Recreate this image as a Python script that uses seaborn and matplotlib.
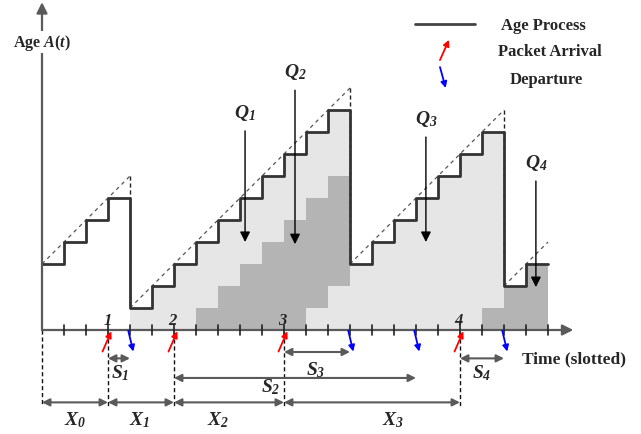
import numpy as np
import matplotlib
matplotlib.use('Agg')
import matplotlib.pyplot as plt
import seaborn as sns

# %%
# age value in every slot, t = 0..22
slots = np.arange(0, 23)
age = [3, 4, 5, 6, 1, 2, 3, 4, 5, 6, 7, 8, 9, 10, 3, 4, 5, 6, 7, 8, 9, 2, 3]
t_end = 23

arrivals = [3, 6, 11, 19]
arrival_labels = ['1', '2', '3', '4']
departures = [4, 14, 17, 21]
resets = [0, 4, 14, 21]

# shaded areas
light_start = 4
dark_slots = [7, 8, 9, 10, 11, 12, 13, 20, 21, 22]
dark_low = [0, 0, 0, 0, 0, 1, 2, 0, 0, 0]
dark_high = [1, 2, 3, 4, 5, 6, 7, 1, 2, 3]

# interval annotations
x_names = ['$X_0$', '$X_1$', '$X_2$', '$X_3$']
x_start = [0, 3, 6, 11]
x_stop = [3, 6, 11, 19]
s_names = ['$S_1$', '$S_2$', '$S_3$', '$S_4$']
s_start = [3, 6, 11, 19]
s_stop = [4, 17, 14, 21]

q_names = ['$Q_1$', '$Q_2$', '$Q_3$', '$Q_4$']
q_x = [9.23, 11.5, 17.45, 22.45]

# %%
sns.set_style('white')
plt.rcParams['font.family'] = ['Liberation Serif', 'DejaVu Serif']
plt.rcParams['mathtext.fontset'] = 'custom'
plt.rcParams['mathtext.it'] = 'Liberation Serif:italic:bold'
plt.rcParams['mathtext.rm'] = 'Liberation Serif:italic:bold'
plt.rcParams['mathtext.bf'] = 'Liberation Serif:italic:bold'

fig = plt.figure(figsize=(6.41, 4.35), dpi=100)
ax = fig.add_axes([0, 0, 1, 1])
ax.set_xlim(-42 / 22, 599 / 22)
ax.set_ylim(-104 / 22, 331 / 22)
ax.axis('off')

LIGHT = '#e6e6e6'
DARK = '#b4b4b4'
AXC = '#5a5a5a'

t_full = np.append(slots, t_end)
age_full = np.append(age, age[-1])

# light area under the age curve
mask = t_full >= light_start
ax.fill_between(t_full[mask], 0, age_full[mask], step='post', color=LIGHT, lw=0, zorder=1)
# dark areas
ax.bar(dark_slots, np.array(dark_high) - np.array(dark_low), bottom=dark_low,
       width=1, align='edge', color=DARK, lw=0, zorder=2)

# age process
sns.lineplot(x=t_full, y=age_full, drawstyle='steps-post', color='#333333',
             lw=2, ax=ax, legend=False, zorder=5)

# dashed envelopes
ends = resets[1:] + [t_end]
for s, e in zip(resets, ends):
    a0 = age[s]
    top = a0 + (e - s)
    ax.plot([s, e], [a0, top], ls=(0, (3, 3)), color='#555555', lw=0.9, zorder=4)
    if e < t_end:
        ax.plot([e, e], [top, age[e]], ls=(0, (3, 2)), color='#222222', lw=1, zorder=4)

# axes
ax.annotate('', xy=(24.15, 0), xytext=(0, 0),
            arrowprops=dict(arrowstyle='-|>', color=AXC, lw=1.6, mutation_scale=16,
                            shrinkA=0, shrinkB=0), zorder=6)
ax.annotate('', xy=(0, 14.9), xytext=(0, 0),
            arrowprops=dict(arrowstyle='-|>', color=AXC, lw=1.6, mutation_scale=16,
                            shrinkA=0, shrinkB=0), zorder=6)
for t in range(1, t_end + 1):
    ax.plot([t, t], [-0.23, 0.23], color='#222222', lw=1.2, zorder=6)

ax.text(0, 13.09, 'Age $A$($t$)', ha='center', va='center', fontsize=11.5,
        fontweight='bold', zorder=7,
        bbox=dict(facecolor='white', edgecolor='none', pad=1))
ax.text(24.2, -1.3, 'Time (slotted)', ha='center', va='center', fontsize=12.5,
        fontweight='bold')

# arrivals / departures
for t, lab in zip(arrivals, arrival_labels):
    ax.annotate('', xy=(t + 0.15, -0.06), xytext=(t - 0.25, -0.98),
                arrowprops=dict(arrowstyle='-|>', color='red', lw=1.3, mutation_scale=9,
                                shrinkA=0, shrinkB=0), zorder=7)
    ax.text(t - 0.05, 0.45, '$' + lab + '$', ha='center', va='center', fontsize=12, zorder=7)
    ax.plot([t, t], [-0.1, -3.45], ls=(0, (3, 2)), color='#111111', lw=1)
ax.plot([0, 0], [0, -3.45], ls=(0, (3, 2)), color='#111111', lw=1)
for t in departures:
    ax.annotate('', xy=(t + 0.15, -0.98), xytext=(t - 0.08, -0.03),
                arrowprops=dict(arrowstyle='-|>', color='blue', lw=1.3, mutation_scale=9,
                                shrinkA=0, shrinkB=0), zorder=7)

# X intervals
for name, a, b, lx in zip(x_names, x_start, x_stop, [1.5, 4.45, 8.0, 15.95]):
    ax.annotate('', xy=(b, -3.29), xytext=(a, -3.29),
                arrowprops=dict(arrowstyle='<|-|>', color=AXC, lw=1.5, mutation_scale=11,
                                shrinkA=0, shrinkB=0))
    ax.text(lx, -4.05, name, ha='center', va='center', fontsize=14)

# S intervals
s_y = [-1.29, -2.18, -1.0, -1.29]
s_lab = [(3.55, -1.9), (10.4, -2.55), (12.45, -1.77), (20.0, -1.9)]
for name, a, b, y, (lx, ly) in zip(s_names, s_start, s_stop, s_y, s_lab):
    ax.annotate('', xy=(b, y), xytext=(a, y),
                arrowprops=dict(arrowstyle='<|-|>', color=AXC, lw=1.5, mutation_scale=11,
                                shrinkA=0, shrinkB=0))
    ax.text(lx, ly, name, ha='center', va='center', fontsize=14)

# Q arrows
q_top = [9.05, 10.9, 8.77, 6.77]
q_tip = [4.0, 3.9, 4.0, 1.95]
for name, x, a, b in zip(q_names, q_x, q_top, q_tip):
    ax.annotate('', xy=(x, b), xytext=(x, a),
                arrowprops=dict(arrowstyle='-|>', color='black', lw=1, mutation_scale=15,
                                shrinkA=0, shrinkB=0), zorder=8)
    ax.text(x, a + 0.85, name, ha='center', va='center', fontsize=14, zorder=8)

# legend
ax.plot([16.95, 19.68], [13.9, 13.9], color='#444444', lw=2)
ax.text(22.77, 13.86, 'Age Process', ha='center', va='center', fontsize=12, fontweight='bold')
ax.annotate('', xy=(18.5, 13.19), xytext=(18.09, 12.27),
            arrowprops=dict(arrowstyle='-|>', color='red', lw=1.3, mutation_scale=9,
                            shrinkA=0, shrinkB=0))
ax.text(23.09, 12.68, 'Packet Arrival', ha='center', va='center', fontsize=12, fontweight='bold')
ax.annotate('', xy=(18.35, 11.0), xytext=(18.09, 11.95),
            arrowprops=dict(arrowstyle='-|>', color='blue', lw=1.3, mutation_scale=9,
                            shrinkA=0, shrinkB=0))
ax.text(22.9, 11.41, 'Departure', ha='center', va='center', fontsize=12, fontweight='bold')

fig.savefig('out.png', dpi=100)
